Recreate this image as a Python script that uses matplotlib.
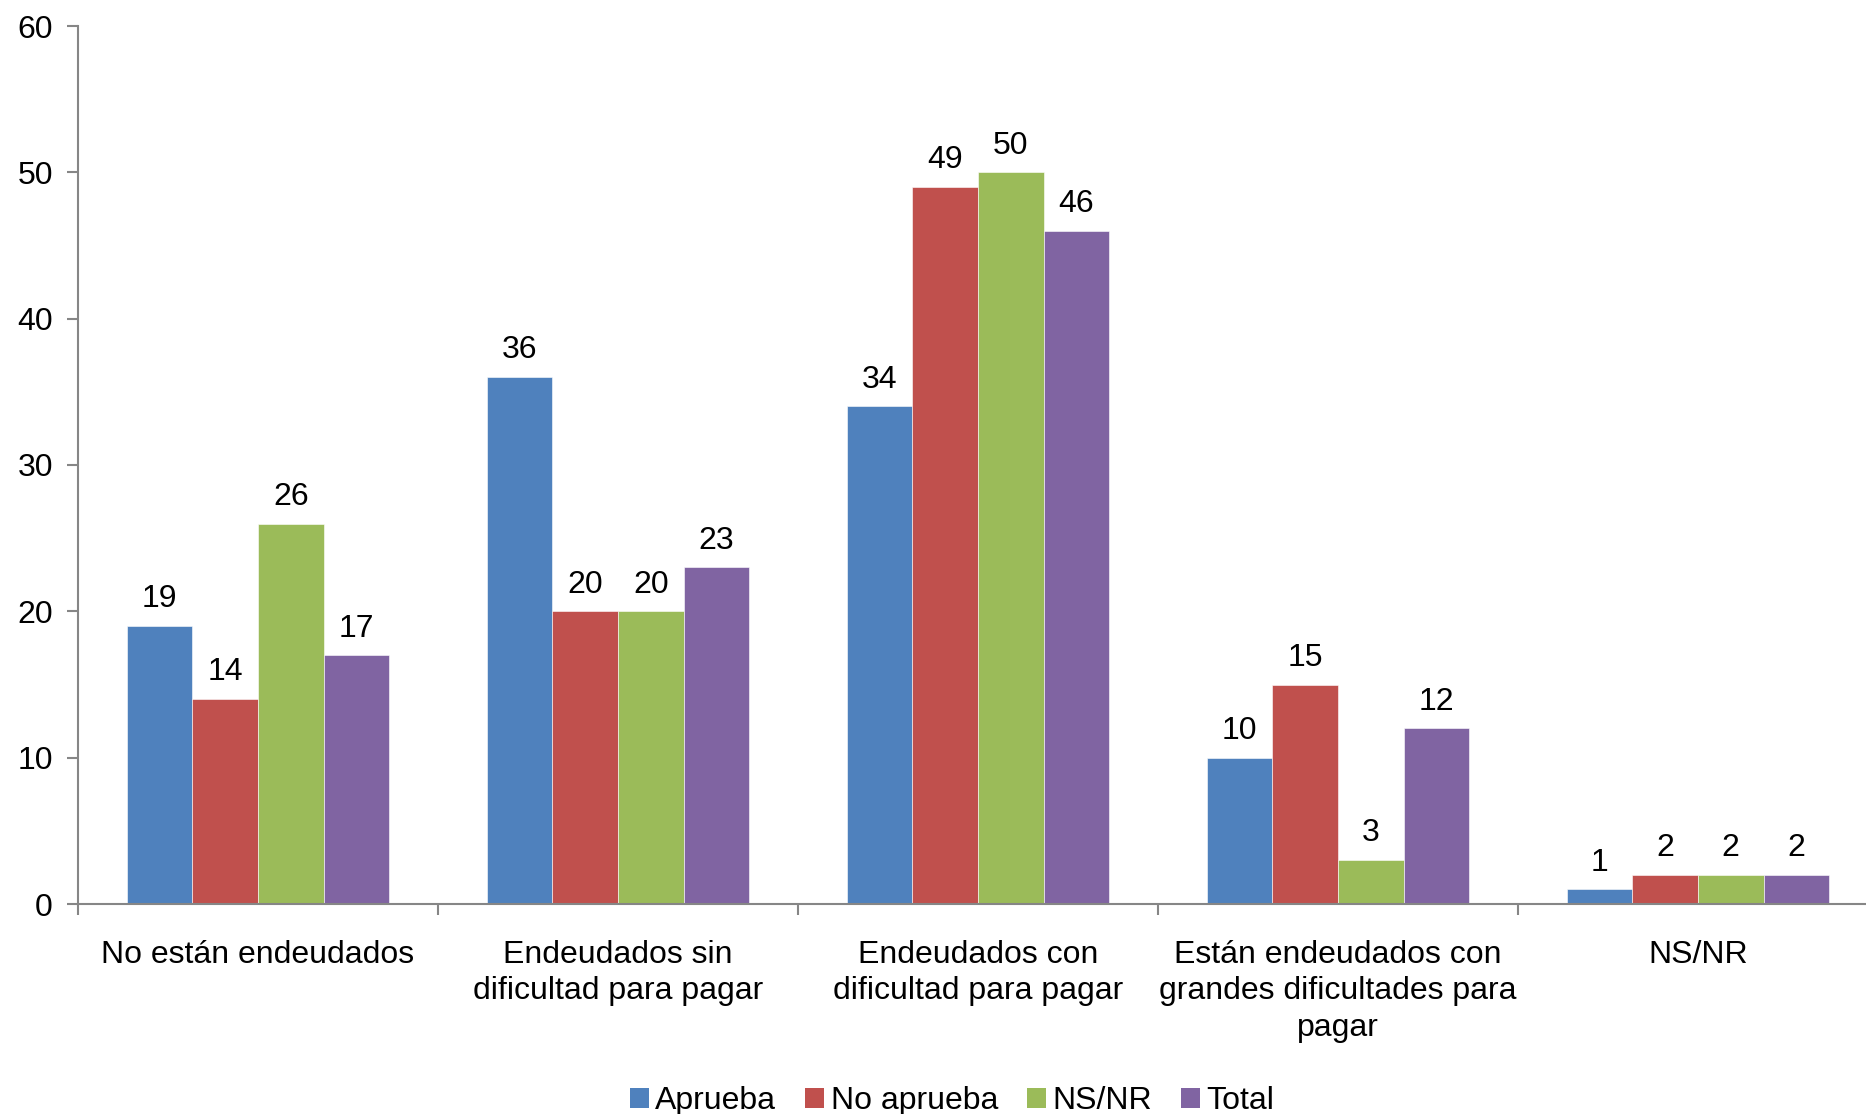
import numpy as np
import matplotlib
matplotlib.use("Agg")
import matplotlib.pyplot as plt
from matplotlib.patches import Patch

plt.rcParams['font.family'] = ['Liberation Sans', 'DejaVu Sans']

categories = ["No están endeudados",
              "Endeudados sin\ndificultad para pagar",
              "Endeudados con\ndificultad para pagar",
              "Están endeudados con\ngrandes dificultades para\npagar",
              "NS/NR"]
series_names = ["Aprueba", "No aprueba", "NS/NR", "Total"]
aprueba = [19, 36, 34, 10, 1]
no_aprueba = [14, 20, 49, 15, 2]
ns_nr = [26, 20, 50, 3, 2]
total = [17, 23, 46, 12, 2]
colors = ["#4F81BD", "#C0504D", "#9BBB59", "#8064A2"]

series = [aprueba, no_aprueba, ns_nr, total]
fs = 23

fig = plt.figure(figsize=(18.66, 11.14), dpi=100)
ax = fig.add_axes([78 / 1866, 1 - 904 / 1114, 1800 / 1866, 878 / 1114])

x = np.arange(len(categories))
w = 0.182
for i, (vals, name, c) in enumerate(zip(series, series_names, colors)):
    pos = x + (i - 1.5) * w
    ax.bar(pos, vals, width=w, color=c, label=name, edgecolor='white', linewidth=0.4)
    for p, v in zip(pos, vals):
        ax.text(p, v + 0.8, str(v), ha='center', va='bottom', fontsize=fs)

ax.set_xlim(-0.5, len(categories) - 0.5)
ax.set_ylim(0, 60)
ax.set_yticks(range(0, 61, 10))
ax.tick_params(axis='y', labelsize=fs, length=8, width=1.5, color='#868686', pad=10)

# category labels between boundary ticks
ax.set_xticks(np.arange(len(categories) + 1) - 0.5)
ax.set_xticklabels([])
ax.tick_params(axis='x', length=8, width=1.5, color='#868686')
ax.set_xticks(x, minor=True)
ax.set_xticklabels(categories, minor=True, fontsize=fs, linespacing=1.27)
ax.tick_params(axis='x', which='minor', length=0, pad=26)

for s in ['top', 'right']:
    ax.spines[s].set_visible(False)
for s in ['left', 'bottom']:
    ax.spines[s].set_color('#868686')
    ax.spines[s].set_linewidth(1.5)

handles = [Patch(facecolor=c, label=n) for c, n in zip(colors, series_names)]
fig.legend(handles=handles, loc='center', bbox_to_anchor=(952 / 1866, 1 - 1101 / 1114),
           ncol=4, frameon=False, fontsize=fs, handlelength=0.6, handleheight=0.6,
           handletextpad=0.2, columnspacing=0.9)

fig.savefig("out.png", dpi=100)
